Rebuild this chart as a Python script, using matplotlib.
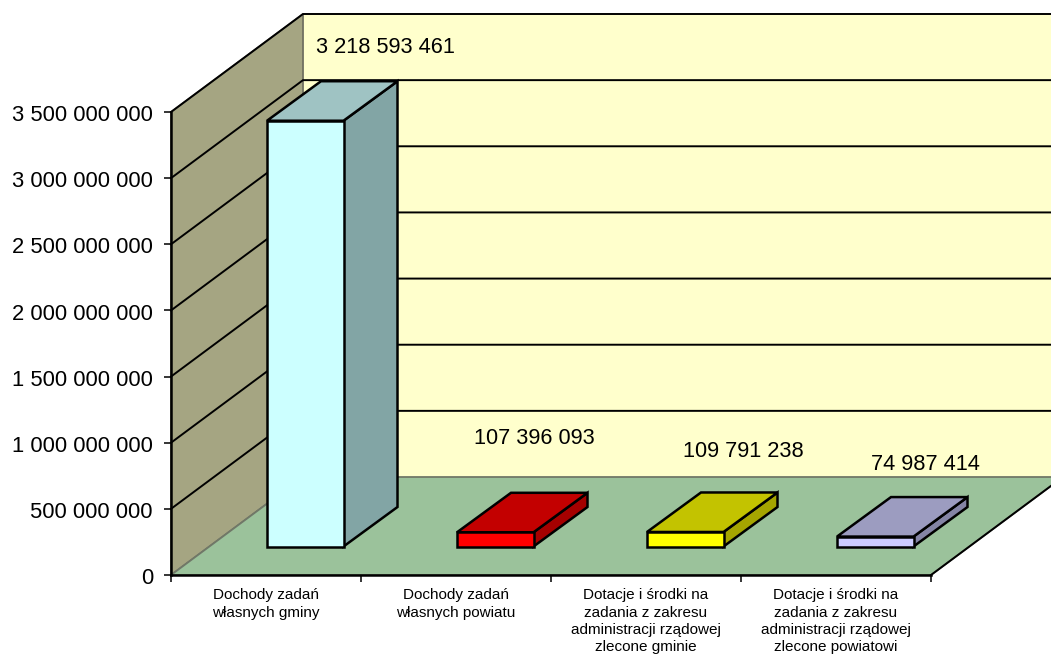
#!/usr/bin/env python3

import matplotlib as mpl

mpl.use('Agg')
import matplotlib.pyplot as plt
from matplotlib.patches import Polygon
from matplotlib.transforms import ScaledTranslation

categories = [
    'Dochody zadań\nwłasnych gminy',
    'Dochody zadań\nwłasnych powiatu',
    'Dotacje i środki na\nzadania z zakresu\nadministracji rządowej\nzlecone gminie',
    'Dotacje i środki na\nzadania z zakresu\nadministracji rządowej\nzlecone powiatowi',
]
values = [3218593461, 107396093, 109791238, 74987414]
value_labels = ['3 218 593 461', '107 396 093', '109 791 238', '74 987 414']
yticks = [0, 500000000, 1000000000, 1500000000, 2000000000, 2500000000, 3000000000, 3500000000]
ytick_labels = ['0', '500 000 000', '1 000 000 000', '1 500 000 000', '2 000 000 000',
                '2 500 000 000', '3 000 000 000', '3 500 000 000']

front_colors = ['#ccffff', '#ff0000', '#ffff00', '#ccccff']
top_colors = ['#9fc3c3', '#c30000', '#c3c300', '#9c9cc0']
side_colors = ['#82a5a5', '#a50000', '#a5a500', '#8484a5']

# plot area in pixels of the 1051x655 picture
W, H = 1051, 655
LEFT, RIGHT, TOP, BOTTOM = 171, 931, 112, 575
PX_X = 4 / (RIGHT - LEFT)
PX_Y = 3500000000 / (BOTTOM - TOP)


def dx(px):
    return px * PX_X


def dy(px):
    return px * PX_Y


# depth of the room and of the bars, in pixels
WALL_DX, WALL_DY = 132, 98
BAR_DX, BAR_DY = 54, 39.5
BAR_LIFT, BAR_SHIFT, BAR_WIDTH = 28.5, 96, 76.5

figure = plt.figure(figsize=(W / 100, H / 100), dpi=100)
plt.rcParams['font.family'] = ['Liberation Sans', 'DejaVu Sans']
ax = figure.add_axes([LEFT / W, 1 - BOTTOM / H, (RIGHT - LEFT) / W, (BOTTOM - TOP) / H])
ax.set_xlim(0, 4)
ax.set_ylim(0, 3500000000)
ax.patch.set_visible(False)


def poly(points, face, edge='none', lw=1.8, z=2):
    ax.add_patch(Polygon(points, closed=True, facecolor=face, edgecolor=edge, linewidth=lw,
                         zorder=z, clip_on=False, joinstyle='miter'))


top = yticks[-1]
wx, wy = dx(WALL_DX), dy(WALL_DY)

# walls and floor
poly([(wx, wy), (4 + wx, wy), (4 + wx, top + wy), (wx, top + wy)], '#ffffcc', z=1)
poly([(0, 0), (wx, wy), (wx, top + wy), (0, top)], '#a5a582', edge='#707060', lw=1.3, z=1)
poly([(0, 0), (4, 0), (4 + wx, wy), (wx, wy)], '#9bc29b', edge='#707868', lw=1.3, z=1)

# gridlines run along the side wall and the back wall
for tick in yticks[1:]:
    ax.plot([0, wx, 4 + wx], [tick, tick + wy, tick + wy], color='black', lw=1.4, zorder=1.5,
            clip_on=False, solid_joinstyle='miter')

# bars
lefts = [i + dx(BAR_SHIFT) for i in range(len(values))]
ax.bar(lefts, values, width=dx(BAR_WIDTH), bottom=dy(BAR_LIFT), align='edge', color=front_colors,
       edgecolor='black', linewidth=1.8, zorder=4, clip_on=False)
for i, value in enumerate(values):
    x0 = lefts[i]
    x1 = x0 + dx(BAR_WIDTH)
    y0 = dy(BAR_LIFT)
    y1 = y0 + value
    bx, by = dx(BAR_DX), dy(BAR_DY)
    poly([(x1, y0), (x1 + bx, y0 + by), (x1 + bx, y1 + by), (x1, y1)], side_colors[i], edge='black', z=3)
    poly([(x0, y1), (x1, y1), (x1 + bx, y1 + by), (x0 + bx, y1 + by)], top_colors[i], edge='black', z=3)

# value labels, placed by hand like in the original
label_pos = [(385, 47.5), (534, 438.5), (743, 451.5), (925, 464.5)]
for text, (px, py) in zip(value_labels, label_pos):
    ax.text(dx(px - LEFT), dy(BOTTOM - py), text, ha='center', va='center', fontsize=15.7,
            color='black', zorder=6, clip_on=False)

ax.set_yticks(yticks)
ax.set_yticklabels(ytick_labels, fontsize=15.8)
ax.set_xticks(range(5))
ax.set_xticklabels([])
ax.tick_params(axis='y', length=5, width=1.1, pad=8)
ax.tick_params(axis='x', length=5, width=1.1)
for tick in ax.get_xticklines() + ax.get_yticklines():
    tick.set_zorder(5)
# the labels sit a pixel under their ticks
for label in ax.get_yticklabels():
    label.set_transform(label.get_transform() + ScaledTranslation(0, -1.2 / 100, figure.dpi_scale_trans))

for i, category in enumerate(categories):
    ax.text(i + 0.5, -dy(13.5), category, ha='center', va='top', fontsize=11, linespacing=1.28,
            color='black', clip_on=False)

for side in ['top', 'right']:
    ax.spines[side].set_visible(False)
for side in ['left', 'bottom']:
    ax.spines[side].set_linewidth(1.8)
    ax.spines[side].set_zorder(5)

# right edge of the floor
ax.plot([4, 4 + wx], [0, wy], color='black', lw=1.4, zorder=2, clip_on=False)

figure.savefig('out.png', dpi=100)
plt.close(figure)
